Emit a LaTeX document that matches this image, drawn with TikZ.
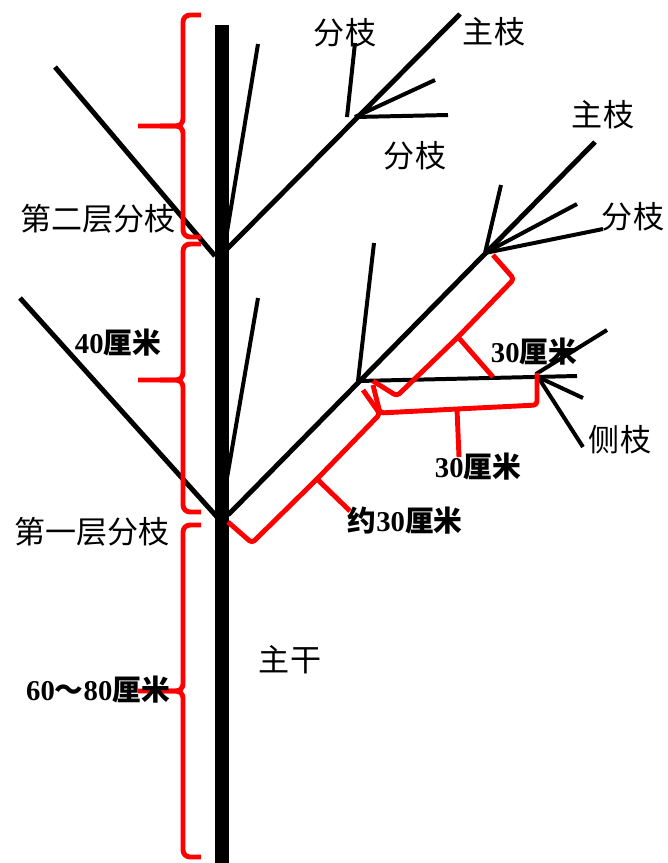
\documentclass[tikz,border=0pt]{standalone}
\usepackage{fontspec}
\newfontfamily\cjk{Noto Sans CJK SC}
\newfontfamily\numfont{Liberation Serif}
\usetikzlibrary{positioning}
\definecolor{BraceRed}{HTML}{FF0000}

\tikzset{
  trunk/.style={line width=12.5pt},
  limb/.style={line width=4.2pt},
  twig/.style={line width=3.4pt},
  brace/.style={BraceRed, line width=4.2pt, line join=round, rounded corners=3pt},
  lbl/.style={font=\cjk\fontsize{26.5}{26.5}\selectfont, inner sep=0pt},
  dimlbl/.style={font=\bfseries\fontsize{24.5}{24.5}\selectfont, inner sep=0pt}
}
% length label: number + 厘米
\newcommand\cmlen[1]{{\numfont #1}{\cjk 厘米}}
% brace on the left of the trunk: top, middle, bottom
\newcommand\sidebrace[3]{%
  \draw[brace, rounded corners=6pt] (201,#1) -- (183,#1) -- (183,#2) -- (138,#2);
  \draw[brace, rounded corners=6pt] (160,#2) -- (183,#2) -- (183,#3) -- (201,#3);
}

\begin{document}
\begin{tikzpicture}[x=0.03cm, y=-0.03cm, line cap=butt]
    \useasboundingbox (0,0) rectangle (667,863);

    % Junctions
    \coordinate (T2) at (222,250);
    \coordinate (J2) at (355,117);
    \coordinate (T1) at (222,515);
    \coordinate (A) at (358,381);
    \coordinate (B) at (485,253);
    \coordinate (C) at (538,377);

    % Main trunk
    \draw[trunk] (222,25) -- (222,863);

    % Second tier
    \draw[limb] (55,67) -- (215,256);
    \draw[limb] (226,250) -- (460,14);
    \draw[twig] (227,232) -- (258,44);
    \draw[twig] (347,117) -- (355,43);
    \draw[twig] (J2) -- (435,80);
    \draw[twig] (J2) -- (448,115);

    % First tier
    \draw[limb] (20,298) -- (218,518);
    \draw[limb] (228,515) -- (595,142);
    \draw[twig] (227,478) -- (258,298);
    \draw[twig] (A) -- (374,243);
    \draw[twig] (A) -- (577,376);
    \draw[twig] (B) -- (501,185);
    \draw[twig] (B) -- (577,204);
    \draw[twig] (B) -- (603,229);
    \draw[twig] (536,374) -- (607,330);
    \draw[twig] (C) -- (583,398);
    \draw[twig] (C) -- (583,447);

    % Braces beside the trunk
    \sidebrace{15}{126}{237}
    \sidebrace{244}{380}{512}
    \sidebrace{525}{691}{857}

    % Brace: trunk to first side branch
    \draw[brace] (228,522) -- (252,543) -- (317,479) -- (380,414) -- (363,390);
    \draw[brace] (317,479) -- (350,511);

    % Brace: first to second side branch
    \draw[brace] (373,381) -- (397,396) -- (458,337) -- (514,279) -- (493,255);
    \draw[brace] (458,337) -- (493,377);

    % Brace: along the side branch
    \draw[brace] (373,385) -- (380,413) -- (457,409) -- (537,405) -- (537,373);
    \draw[brace] (457,409) -- (459,457);

    % Labels
    \node[lbl] (l1) at (345,33) {分枝};
    \node[lbl] (l2) at (494,32) {主枝};
    \node[lbl] (l3) at (415,156) {分枝};
    \node[lbl] (l4) at (98,219) {第二层分枝};
    \node[lbl] (l5) at (603,115) {主枝};
    \node[lbl] (l6) at (633,217) {分枝};
    \node[lbl] (l7) at (620,440) {侧枝};
    \node[lbl] (l8) at (92,532) {第一层分枝};
    \node[lbl] (l9) at (290,660) {主干};
    \node[dimlbl] (d1) at (534,352) {\cmlen{30}};
    \node[dimlbl] (d2) at (478,467) {\cmlen{30}};
    \node[dimlbl] (d3) at (405,521) {{\cjk 约}\cmlen{30}};
    \node[dimlbl] (d4) at (118,343) {\cmlen{40}};
    \node[dimlbl] (d5) at (98,690) {{\numfont 60}{\cjk ～}\cmlen{80}};

\end{tikzpicture}
\end{document}
